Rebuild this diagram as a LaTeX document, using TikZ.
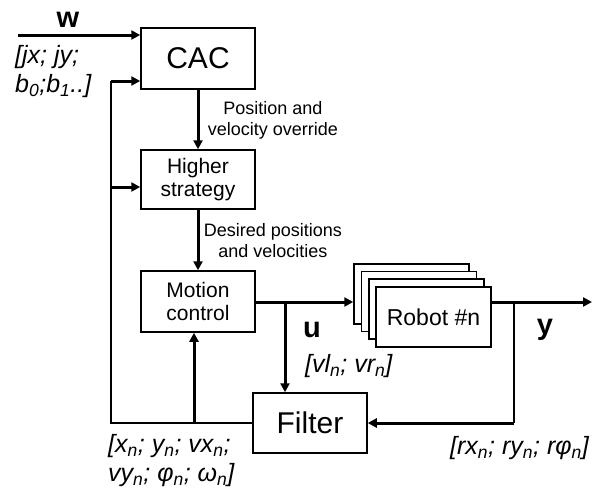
\documentclass[tikz,border=0pt]{standalone}
\usepackage{fontspec}
\setmainfont{Liberation Sans}
\usetikzlibrary{arrows.meta}
\begin{document}
\begin{tikzpicture}[x=1pt,y=-1pt,
  box/.style={draw, line width=1.5pt, fill=white, minimum width=114pt, inner sep=0pt, align=center},
  bigbox/.style={box, minimum height=61pt, font=\fontsize{30}{34}\selectfont},
  midbox/.style={box, minimum height=60pt, font=\fontsize{21}{23}\selectfont},
  robbox/.style={draw, line width=1.5pt, fill=white, minimum width=115pt, minimum height=60pt, inner sep=0pt},
  thinln/.style={line width=1.5pt},
  arr/.style={line width=3pt, -{Triangle[length=9pt,width=9pt]}},
  lbl/.style={font=\fontsize{18}{21}\selectfont, align=center, inner sep=0pt},
  vec/.style={font=\fontsize{25}{29}\selectfont\itshape, align=left, inner sep=0pt, anchor=west},
  sig/.style={font=\fontsize{29}{32}\selectfont\bfseries, inner sep=0pt}]
\useasboundingbox (0,0) rectangle (606,498);

% boxes
\node[bigbox] (cac) at (198,58.5) {CAC};
\node[midbox, minimum height=59pt] (hs) at (198,179.5) {Higher\\strategy};
\node[midbox, minimum height=61pt] (mc) at (198,301.5) {Motion\\control};
\node[bigbox, minimum height=60pt] (flt) at (310,423) {Filter};

% robot stack
\node[robbox] (rb1) at (411.5,294) {};
\node[robbox] (rb2) at (419,301.5) {};
\node[robbox] (rb3) at (426.5,309) {};
\node[robbox, font=\fontsize{23}{26}\selectfont] (rob) at (433.5,317) {Robot \#n};

% coordinates
\coordinate (win) at (18,35);
\coordinate (ubr) at (285,302);
\coordinate (ybr) at (514,302);
\coordinate (yout) at (592,302);
\coordinate (lt) at (111,81);
\coordinate (lh) at (111,187);
\coordinate (lb) at (111,423);
\coordinate (fb) at (194,423);

% connectors
\draw[arr] (win) -- (win -| cac.west);
\draw[arr] (cac.south) -- (hs.north);
\draw[arr] (hs.south) -- (mc.north);
\draw[arr] (mc.east |- ubr) -- (ubr -| rb1.west);
\draw[arr] (ubr) -- (ubr |- flt.north);
\draw[arr] (ubr -| rob.east) -- (yout);
\draw[thinln] (ybr) -- (ybr |- flt.east);
\draw[arr] (ybr |- flt.east) -- (flt.east);
\draw[thinln] (flt.west) -- (lb) -- (lt);
\draw[arr] (lt) -- (lt -| cac.west);
\draw[arr] (lh) -- (lh -| hs.west);
\draw[arr] (fb) -- (fb |- mc.south);

% labels
\node[sig] (w) at (68,20) {w};
\node[vec] (wv) at (15,72) {[jx; jy;\\b\textsubscript{0};b\textsubscript{1}..]};
\node[lbl] (l1) at (273,120) {Position and\\velocity override};
\node[lbl] (l2) at (273,241) {Desired positions\\and velocities};
\node[sig] (u) at (312,330) {u};
\node[vec] (uv) at (305,366) {[vl\textsubscript{n}; vr\textsubscript{n}]};
\node[sig] (y) at (545,330) {y};
\node[vec] (xv) at (108,461) {[x\textsubscript{n}; y\textsubscript{n}; vx\textsubscript{n};\\vy\textsubscript{n}; φ\textsubscript{n}; ω\textsubscript{n}]};
\node[vec] (rv) at (450,448) {[rx\textsubscript{n}; ry\textsubscript{n}; rφ\textsubscript{n}]};
\end{tikzpicture}
\end{document}
